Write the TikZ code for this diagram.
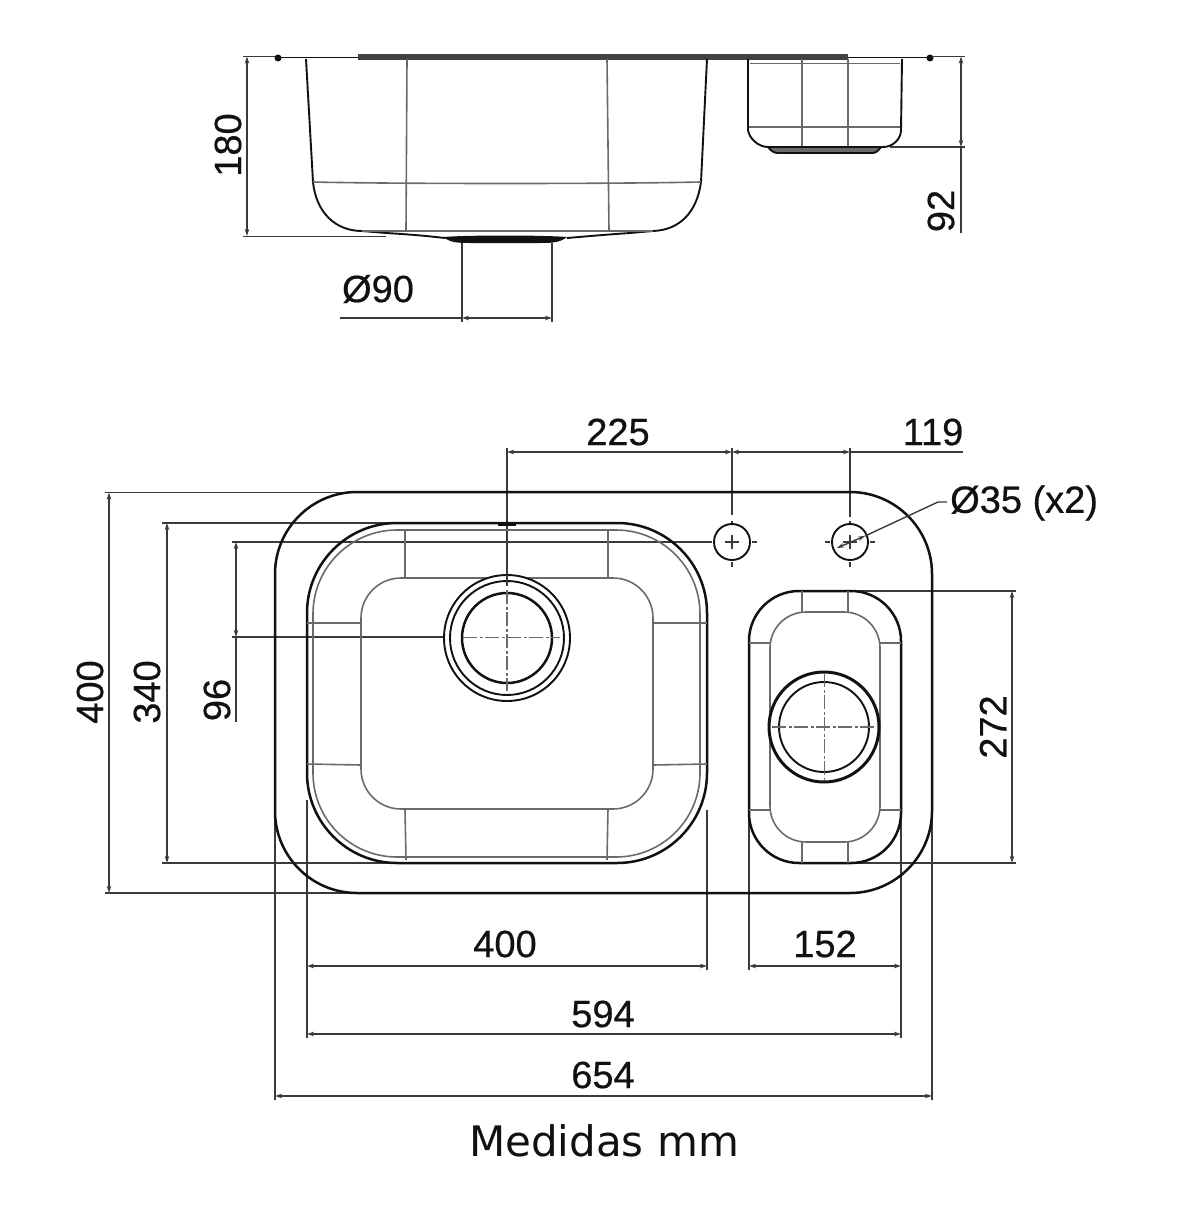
\documentclass[tikz,border=0pt]{standalone}
\usepackage{fontspec}
\setmainfont[RawFeature={embolden=0.5}]{Liberation Sans}
\newfontfamily\capfont{DejaVu Sans}
\usetikzlibrary{arrows.meta}
\definecolor{ink}{HTML}{111111}
\definecolor{thinink}{HTML}{3A3A3A}
\definecolor{softink}{HTML}{6A6A6A}
\tikzset{
  bold/.style={draw=ink,line width=2.5pt},
  medium/.style={draw=ink,line width=1.9pt},
  thin1/.style={draw=softink,line width=1.6pt},
  dim/.style={draw=thinink,line width=1.4pt},
  dimarrow/.style={dim,{Stealth[length=7pt,width=4.5pt]}-{Stealth[length=7pt,width=4.5pt]}},
  centre/.style={draw=softink,line width=1.4pt,dash pattern=on 14pt off 2.5pt on 3pt off 2.5pt},
  label/.style={font=\fontsize{38}{38}\selectfont,text=ink,inner sep=0pt},
  vlabel/.style={label,rotate=90},
}
\begin{document}
\begin{tikzpicture}[x=1pt,y=-1pt]
\useasboundingbox[fill=white] (0,0) rectangle (1200,1207);

% ---------- top view: section ----------
\draw[medium] (275,57.5) -- (932,57.5);
\fill[ink!80] (358,54.5) rectangle (848,60.5);
\fill[ink] (278,58) circle (3.5);
\fill[ink] (930,58) circle (3.5);
% large bowl
\draw[medium] (306,59) -- (313,182) .. controls (316,212) and (335,231) .. (362,231) -- (386,233);
\draw[medium] (707,59) -- (701,182) .. controls (697,212) and (680,230) .. (653,231) -- (630,233);
\draw[thin1] (362,231) -- (653,231);
\draw[thin1] (313,182) .. controls (400,184) and (610,184) .. (701,182);
\draw[thin1] (407,59) -- (406,230);
\draw[thin1] (607,59) -- (609,230);
\draw[medium] (386,233) .. controls (420,235) and (435,237) .. (445,238);
\draw[medium] (630,233) .. controls (600,235) and (580,237) .. (567,238);
\fill[ink] (443,237) .. controls (470,235) and (540,235) .. (567,237)
  .. controls (560,243) and (550,243) .. (540,243) -- (470,243) .. controls (455,243) and (450,242) .. (443,237) -- cycle;
% small bowl
\draw[medium] (748,59) -- (748,130) .. controls (749,138) and (758,147) .. (768,147) -- (883,147)
  .. controls (893,147) and (901,139) .. (901,130) -- (902,59);
\draw[thin1] (750,63.5) -- (900,63.5);
\draw[thin1] (749,127) -- (900,127);
\draw[thin1] (802,59) -- (802,147);
\draw[thin1] (848,59) -- (848,147);
\draw[medium,fill=softink] (768,147) .. controls (771,151) and (774,153) .. (778,153) -- (872,153)
  .. controls (876,153) and (878,151) .. (881,147) -- cycle;

% top view dimensions
\coordinate (topA) at (247,56.5);
\coordinate (topB) at (247,236);
\draw[dim] (243,56.5) -- (275,56.5);
\draw[dim] (243,236.5) -- (386,236.5);
\draw[dimarrow] (topA) -- (topB);
\node[vlabel] (d180) at (228,145) {180};

\coordinate (phiA) at (462,318);
\coordinate (phiB) at (552,318);
\draw[dim] (462,243) -- (462,322);
\draw[dim] (552,243) -- (552,322);
\draw[dim] (340,318) -- (phiA);
\draw[dimarrow] (phiA) -- (phiB);
\node[label] (d90) at (378,289) {Ø90};

\coordinate (smA) at (961,56.5);
\coordinate (smB) at (961,147);
\draw[dim] (932,56.5) -- (965,56.5);
\draw[dim] (890,147) -- (965,147);
\draw[dimarrow] (smA) -- (smB);
\draw[dim] (smB) -- (961,233);
\node[vlabel] (d92) at (941,211) {92};

% ---------- plan view ----------
% construction lines (behind the outline)
\draw[dim] (105,492.5) -- (358,492.5);
\draw[dim] (105,893) -- (358,893);
\draw[dim] (162,523) -- (397,523);
\draw[dim] (162,863) -- (397,863);
\draw[dim] (232,542) -- (712,542);
\draw[dim] (232,637) -- (445,637);
\draw[dim] (507,448) -- (507,575);
\draw[dim] (732,448) -- (732,515);
\draw[dim] (850,448) -- (850,517);
\draw[dim] (850,591) -- (1016,591);
\draw[dim] (850,863) -- (1016,863);
\draw[dim] (307,800) -- (307,1038);
\draw[dim] (707,810) -- (707,970);
\draw[dim] (749,810) -- (749,970);
\draw[dim] (901,810) -- (901,1038);
\draw[dim] (275,800) -- (275,1100);
\draw[dim] (932,800) -- (932,1100);

% outline
\draw[bold,rounded corners=82pt] (275,492) rectangle (932,893);
\draw[bold] (275,573) -- (275,813);
\draw[bold] (932,573) -- (932,813);

% large bowl
\draw[bold,rounded corners=90pt] (307,523) rectangle (707,863);
\draw[thin1,rounded corners=84pt] (313,530) rectangle (700,857);
\draw[thin1,rounded corners=40pt] (361,578) rectangle (653,809);
\foreach \a/\b/\c/\d in {405/530/405/578, 608/530/608/578, 405/809/406/860, 608/809/607/860,
                         307/623/361/623, 653/623/707/623, 307/764/361/765, 653/765/707/764}
  \draw[thin1] (\a,\b) -- (\c,\d);
\draw[line width=3pt,draw=ink] (498,524) -- (516,524);

% large drain
\draw[medium,fill=white] (507,638) circle (63);
\draw[medium,fill=white] (507,638) circle (57);
\draw[bold] (507,638) circle (45);
\draw[dim] (507,575) -- (507,586);
\draw[centre] (463,637.5) -- (560,637.5);
\draw[centre] (507,590) -- (507,691);

% small bowl
\draw[bold,rounded corners=50pt] (749,591) rectangle (901,863);
\draw[thin1,rounded corners=36pt] (770,612) rectangle (880,842);
\foreach \a/\b/\c/\d in {802/591/802/612, 848/591/848/612, 802/842/802/863, 848/842/848/863,
                         749/643/770/643, 880/643/901/643, 749/810/770/810, 880/810/901/810}
  \draw[thin1] (\a,\b) -- (\c,\d);

% small drain
\draw[line width=3pt,draw=ink,fill=white] (824,727) circle (55);
\draw[medium] (824,727) circle (45);
\draw[centre] (772,727) -- (878,727);
\draw[centre] (824.5,673) -- (824.5,780);

% tap holes
\foreach \x in {732,850}{
  \draw[medium,fill=white] (\x,542) circle (18);
  \draw[dim] (\x-7,542) -- (\x+7,542);
  \draw[dim] (\x,535) -- (\x,549);
  \draw[dim] (\x+20,542) -- (\x+25,542);
  \draw[dim] (\x-25,542) -- (\x-20,542);
  \draw[dim] (\x,521) -- (\x,523);
  \draw[dim] (\x,562) -- (\x,567);
}

% leader to the right hole
\coordinate (holeA) at (837,548);
\coordinate (holeB) at (865,536);
\coordinate (leaderK) at (938,502);
\coordinate (leaderE) at (947,502);
\draw[dimarrow] (holeA) -- (holeB);
\draw[dim] (holeB) -- (leaderK) -- (leaderE);
\node[label,anchor=west] (d35) at (950,503) {Ø35 (x2)};

% plan dimensions
\coordinate (topL) at (507,452);
\coordinate (topM) at (732,452);
\coordinate (topR) at (850,452);
\coordinate (topE) at (963,452);
\draw[dimarrow] (topL) -- (topM);
\draw[dimarrow] (topM) -- (topR);
\draw[dim] (topR) -- (topE);
\node[label] (d225) at (618,432) {225};
\node[label] (d119) at (933,432) {119};

\coordinate (a1) at (109,492.5);
\coordinate (a2) at (109,893);
\draw[dimarrow] (a1) -- (a2);
\node[vlabel] (d400v) at (90,692) {400};

\coordinate (b1) at (167,523);
\coordinate (b2) at (167,863);
\draw[dimarrow] (b1) -- (b2);
\node[vlabel] (d340) at (147,692) {340};

\coordinate (c1) at (236,542);
\coordinate (c2) at (236,637);
\draw[dimarrow] (c1) -- (c2);
\draw[dim] (c2) -- (236,722);
\node[vlabel] (d96) at (217,700) {96};

\coordinate (e1) at (1012,591);
\coordinate (e2) at (1012,863);
\draw[dimarrow] (e1) -- (e2);
\node[vlabel] (d272) at (993,727) {272};

\coordinate (f1) at (307,966);
\coordinate (f2) at (707,966);
\draw[dimarrow] (f1) -- (f2);
\node[label] (d400h) at (505,944) {400};

\coordinate (g1) at (749,966);
\coordinate (g2) at (901,966);
\draw[dimarrow] (g1) -- (g2);
\node[label] (d152) at (825,944) {152};

\coordinate (h1) at (307,1034);
\coordinate (h2) at (901,1034);
\draw[dimarrow] (h1) -- (h2);
\node[label] (d594) at (603,1014) {594};

\coordinate (i1) at (275,1096);
\coordinate (i2) at (932,1096);
\draw[dimarrow] (i1) -- (i2);
\node[label] (d654) at (603,1075) {654};

\node[inner sep=0pt,text=ink,font=\capfont\fontsize{42}{42}\selectfont] (cap) at (604,1141) {Medidas mm};
\end{tikzpicture}
\end{document}
